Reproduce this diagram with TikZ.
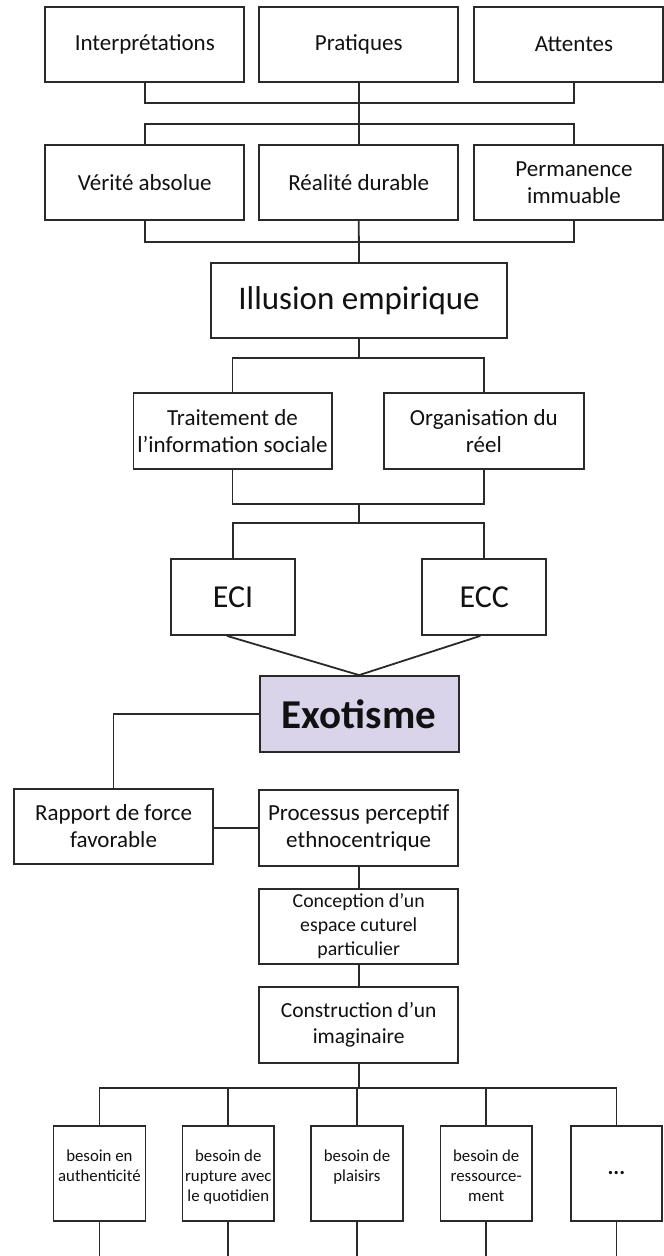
\documentclass[tikz,border=0pt]{standalone}
\usepackage{fontspec}
\setmainfont{Carlito}
\usetikzlibrary{calc}
\definecolor{ln}{HTML}{2A2A2A}
\definecolor{tx}{HTML}{111111}
\definecolor{lav}{RGB}{217,212,234}
\tikzset{
  bx/.style={draw=ln, line width=1.8pt, rectangle, inner sep=0pt, align=center, text=tx},
  cn/.style={draw=ln, line width=1.8pt},
  lbl/.style={inner sep=0pt, align=center, text=tx},
  fmain/.style={font=\fontsize{23}{27}\selectfont},
  fsmall/.style={font=\fontsize{16.8}{20}\selectfont},
}
\begin{document}
\begin{tikzpicture}[x=1pt,y=-1pt]
\fill[white] (0,0) rectangle (664,1256);
\useasboundingbox (0,0) rectangle (664,1256);
% level helpers
\coordinate (L1) at (0,103);
\coordinate (L2) at (0,124);
\coordinate (L3) at (0,242);
\coordinate (L4) at (0,358);
\coordinate (L5) at (0,504);
\coordinate (L6) at (0,523);
\coordinate (L9) at (0,1088);
\coordinate (BOT) at (0,1257);
% top row
\node[bx, fmain, minimum width=199pt, minimum height=75pt] (int) at (144.8,44.5) {Interprétations};
\node[bx, fmain, minimum width=199pt, minimum height=75pt] (pra) at (358.7,44.5) {Pratiques};
\node[bx, minimum width=188.7pt, minimum height=75pt] (att) at (568.7,44.5) {};
\node[lbl, fmain] (attT) at (574,44.5) {Attentes};
% second row
\node[bx, fmain, minimum width=199pt, minimum height=75pt] (ver) at (144.8,182.5) {Vérité absolue};
\node[bx, fmain, minimum width=199pt, minimum height=75pt] (rea) at (358.7,182.5) {Réalité durable};
\node[bx, minimum width=188.7pt, minimum height=75pt] (per) at (568.7,182.5) {};
\node[lbl, fmain] (perT) at (574,182.5) {Permanence\\immuable};
% illusion
\node[bx, font=\fontsize{33}{38}\selectfont, minimum width=296.4pt, minimum height=75pt] (ill) at (359.1,300.5) {Illusion empirique};
% traitement / organisation
\node[bx, fmain, minimum width=198.2pt, minimum height=76pt] (tra) at (232.5,431) {Traitement de\\l’information sociale};
\node[bx, fmain, minimum width=199.5pt, minimum height=76pt] (org) at (483.9,431) {Organisation du\\réel};
% ECI / ECC
\node[bx, font=\fontsize{32}{36}\selectfont, minimum width=124.5pt, minimum height=76pt] (eci) at (233,597) {ECI};
\node[bx, font=\fontsize{32}{36}\selectfont, minimum width=124pt, minimum height=76pt] (ecc) at (484.3,597) {ECC};
% Exotisme
\node[bx, fill=lav, font=\fontsize{41}{46}\selectfont\bfseries, minimum width=199pt, minimum height=76pt] (exo) at (359.1,714) {Exotisme};
% Rapport / Processus
\node[bx, fmain, minimum width=199pt, minimum height=75pt] (rap) at (113.5,826.5) {Rapport de force\\favorable};
\node[bx, fmain, minimum width=199pt, minimum height=76pt] (pro) at (358.7,828) {Processus perceptif\\ethnocentrique};
\node[bx, font=\fontsize{19.8}{24}\selectfont, minimum width=199pt, minimum height=75pt] (con) at (358.7,926.5) {Conception d’un\\espace cuturel\\particulier};
\node[bx, font=\fontsize{21.5}{25.5}\selectfont, minimum width=199pt, minimum height=76pt] (cst) at (358.7,1025) {Construction d’un\\imaginaire};
% bottom boxes
\node[bx, minimum width=92pt, minimum height=95pt] (b1) at (99.4,1173.5) {};
\node[bx, minimum width=91.5pt, minimum height=95pt] (b2) at (228.3,1173.5) {};
\node[bx, minimum width=91.4pt, minimum height=95pt] (b3) at (357,1173.5) {};
\node[bx, minimum width=91.5pt, minimum height=95pt] (b4) at (486.2,1173.5) {};
\node[bx, minimum width=91pt, minimum height=95pt] (b5) at (616.4,1173.5) {};
\node[lbl, fsmall, anchor=north] (t1) at ([yshift=-25pt]b1.north) {besoin en\\authenticité};
\node[lbl, fsmall, anchor=north] (t2) at ([yshift=-25pt]b2.north) {besoin de\\rupture avec\\le quotidien};
\node[lbl, fsmall, anchor=north] (t3) at ([yshift=-25pt]b3.north) {besoin de\\plaisirs};
\node[lbl, fsmall, anchor=north] (t4) at ([yshift=-25pt]b4.north) {besoin de\\ressource-\\ment};
\node[lbl, font=\fontsize{22}{26}\selectfont\bfseries] (t5) at (b5.center) {...};
% connectors top
\draw[cn] (int.south) -- (int.south |- L1) -- (attT |- L1) -- (att.south -| attT);
\draw[cn] (pra.south) -- (pra.south |- L2);
\draw[cn] (ver.north) -- (ver.north |- L2) -- (perT |- L2) -- (per.north -| perT);
\draw[cn] (rea.north) -- (rea.north |- L2);
\draw[cn] (ver.south) -- (ver.south |- L3) -- (perT |- L3) -- (per.south -| perT);
\draw[cn] (rea.south) -- (ill.north);
% illusion to tra/org
\draw[cn] (ill.south) -- (ill.south |- L4);
\draw[cn] (tra.north) -- (tra.north |- L4) -- (org.north |- L4) -- (org.north);
% tra/org to ECI/ECC
\draw[cn] (tra.south) -- (tra.south |- L5) -- (org.south |- L5) -- (org.south);
\draw[cn] (ill.south |- L5) -- (ill.south |- L6);
\draw[cn] (eci.north) -- (eci.north |- L6) -- (ecc.north |- L6) -- (ecc.north);
% ECI/ECC to Exotisme
\draw[cn] ([xshift=-6pt]eci.south) -- (exo.north);
\draw[cn] ([xshift=-4pt]ecc.south) -- (exo.north);
% Exotisme to Rapport
\draw[cn] (exo.west) -| (rap.north);
\draw[cn] (rap.east |- pro.west) -- (pro.west);
\draw[cn] (pro.south) -- (con.north);
\draw[cn] (con.south) -- (cst.north);
% Construction to bottom row
\draw[cn] (cst.south) -- (cst.south |- L9);
\draw[cn] (b1.north) -- (b1.north |- L9) -- (b5.north |- L9) -- (b5.north);
\draw[cn] (b2.north) -- (b2.north |- L9);
\draw[cn] (b3.north) -- (b3.north |- L9);
\draw[cn] (b4.north) -- (b4.north |- L9);
% lines below bottom row
\draw[cn] (b1.south) -- (b1.south |- BOT);
\draw[cn] (b2.south) -- (b2.south |- BOT);
\draw[cn] (b3.south) -- (b3.south |- BOT);
\draw[cn] (b4.south) -- (b4.south |- BOT);
\draw[cn] (b5.south) -- (b5.south |- BOT);
\end{tikzpicture}
\end{document}
